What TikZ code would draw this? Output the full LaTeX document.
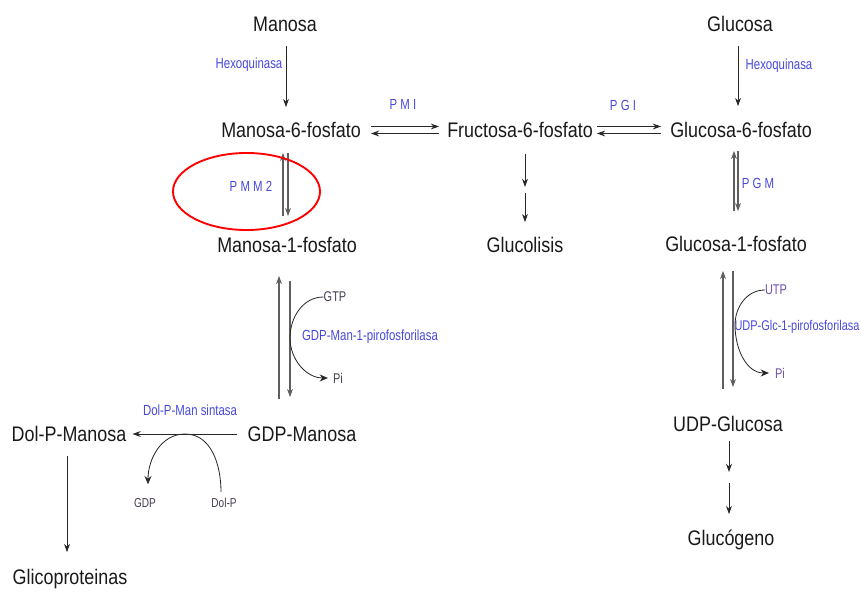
\documentclass[tikz,border=0pt]{standalone}
\usepackage{fontspec}
\setmainfont{Liberation Sans}[FakeStretch=0.85]
\newfontfamily\enzfont{Liberation Sans}[FakeStretch=0.78]
\usetikzlibrary{arrows.meta,calc}
\definecolor{txtdark}{RGB}{25,25,25}
\definecolor{enzblue}{RGB}{72,72,220}
\definecolor{cofgray}{RGB}{70,60,80}
\definecolor{cofviolet}{RGB}{110,80,170}
\definecolor{linedark}{RGB}{40,40,40}
\definecolor{linegray}{RGB}{95,95,95}

\begin{document}
\begin{tikzpicture}[
  x=0.03cm,y=0.03cm,
  met/.style={inner sep=0pt,text height=13pt,text depth=0pt,text=txtdark,font=\fontsize{18}{21}\selectfont},
  enz/.style={inner sep=0pt,text=enzblue,font=\enzfont\fontsize{12.5}{14}\selectfont},
  cof/.style={inner sep=0pt,text=cofgray,font=\enzfont\fontsize{12}{14}\selectfont},
  rx/.style={draw=linedark,line width=0.8pt,-{Stealth[length=7pt,width=5pt]}},
  rxp/.style={rx,draw=linegray,line width=1.1pt},
  cx/.style={draw=linedark,line width=0.7pt,-{Stealth[length=7pt,width=6pt]}}
]
  \useasboundingbox (0,0) rectangle (861,-592);

  % metabolites
  \node[met] (man)    at (285,-24)  {Manosa};
  \node[met] (glc)    at (740,-24)  {Glucosa};
  \node[met] (m6p)    at (291,-130) {Manosa-6-fosfato};
  \node[met] (f6p)    at (520,-130) {Fructosa-6-fosfato};
  \node[met] (g6p)    at (741,-130) {Glucosa-6-fosfato};
  \node[met] (m1p)    at (287,-245) {Manosa-1-fosfato};
  \node[met] (gls)    at (525,-245) {Glucolisis};
  \node[met] (g1p)    at (736,-244) {Glucosa-1-fosfato};
  \node[met] (gdpman) at (302,-434) {GDP-Manosa};
  \node[met] (dpm)    at (69,-434)  {Dol-P-Manosa};
  \node[met] (udpg)   at (728,-424) {UDP-Glucosa};
  \node[met] (glcg)   at (731,-538) {Glucógeno};
  \node[met] (glico)  at (70,-577)  {Glicoproteinas};

  % enzymes
  \node[enz] (hexo1) at (249,-65)  {Hexoquinasa};
  \node[enz] (hexo2) at (779,-66)  {Hexoquinasa};
  \node[enz] (pmi)   at (403,-104) {P M I};
  \node[enz] (pgi)   at (623,-105) {P G I};
  \node[enz] (pmm)   at (251,-186) {P M M 2};
  \node[enz] (pgm)   at (758,-183) {P G M};
  \node[enz] (gmpp)  at (370,-337) {GDP-Man-1-pirofosforilasa};
  \node[enz,font=\enzfont\fontsize{12}{14}\selectfont] (ugp) at (797,-327) {UDP-Glc-1-pirofosforilasa};
  \node[enz] (dpms)  at (190,-410) {Dol-P-Man sintasa};

  % cofactors
  \node[cof] (gtp)  at (335,-297) {GTP};
  \node[cof] (pi1)  at (338,-378) {Pi};
  \node[cof,text=cofviolet] (utp) at (776,-290) {UTP};
  \node[cof,text=cofviolet] (pi2) at (780,-373) {Pi};
  \node[cof,font=\enzfont\fontsize{11}{13}\selectfont] (gdp)  at (145,-503) {GDP};
  \node[cof,font=\enzfont\fontsize{11}{13}\selectfont] (dolp) at (224,-503) {Dol-P};

  \coordinate (fmid)   at (525,-190);
  \coordinate (umid)   at (729,-477);
  \coordinate (gtpmid) at (290,-338);
  \coordinate (utpmid) at (735,-325);
  \coordinate (dpmtop) at (185,-434);

  % hexokinase steps
  \draw[rx] ($(man.south)+(1,-14)$) -- ($(man.south|-m6p.north)+(1,15)$);
  \draw[rx] ($(glc.south)+(-2,-14)$) -- ($(glc.south|-g6p.north)+(-2,16)$);

  % isomerases
  \draw[rx] ($(m6p.east)+(10,3.5)$) -- ($(f6p.west)+(-8,3.5)$);
  \draw[rx] ($(f6p.west)+(-8,-3.5)$) -- ($(m6p.east)+(10,-3.5)$);
  \draw[rx] ($(f6p.east)+(4,3.5)$) -- ($(g6p.west)+(-9,3.5)$);
  \draw[rx] ($(g6p.west)+(-9,-3.5)$) -- ($(f6p.east)+(4,-3.5)$);

  % mutases
  \draw[rxp] ($(m1p.north)+(-4,21)$) -- ($(m1p.north|-m6p.south)+(-4,-15)$);
  \draw[rxp] ($(m1p.north|-m6p.south)+(1,-15)$) -- ($(m1p.north)+(1,21)$);
  \draw[rxp] ($(g1p.north)+(-2,25)$) -- ($(g1p.north|-g6p.south)+(-2,-13)$);
  \draw[rxp] ($(g1p.north|-g6p.south)+(2,-13)$) -- ($(g1p.north)+(2,25)$);

  % glycolysis
  \draw[rx] ($(fmid|-f6p.south)+(0,-16)$) -- ($(fmid)+(0,3)$);
  \draw[rx] ($(fmid)+(0,-3)$) -- ($(gls.north)+(0,15)$);

  % pyrophosphorylases
  \draw[rxp] ($(m1p.south|-gdpman.north)+(-8,27)$) -- ($(m1p.south)+(-8,-23)$);
  \draw[rxp] ($(m1p.south)+(3,-28)$) -- ($(m1p.south|-gdpman.north)+(3,29)$);
  \draw[cx] (gtp.west) to[out=180,in=90] (gtpmid) to[out=-90,in=180] ($(pi1.west)+(-5,0)$);

  \draw[rxp] ($(g1p.south|-udpg.north)+(-13,27)$) -- ($(g1p.south)+(-13,-19)$);
  \draw[rxp] ($(g1p.south)+(-3,-19)$) -- ($(g1p.south|-udpg.north)+(-3,29)$);
  \draw[cx] (utp.west) to[out=180,in=90] (utpmid) to[out=-90,in=180] ($(pi2.west)+(-6,0)$);

  % glycogen
  \draw[rx] ($(umid|-udpg.south)+(0,-9)$) -- ($(umid)+(0,5)$);
  \draw[rx] ($(umid)+(0,-6)$) -- ($(umid|-glcg.north)+(0,16)$);

  % dolichol branch
  \draw[rx] ($(gdpman.west)+(-10,0)$) -- ($(dpm.east)+(6,0)$);
  \draw[cx] ($(dolp.north)+(-3,6)$) to[out=90,in=0] (dpmtop) to[out=180,in=90] ($(gdp.north)+(3,14)$);
  \draw[rx] ($(dpm.south)+(-2,-14)$) -- ($(dpm.south|-glico.north)+(-2,17)$);

  % highlight
  \draw[red,line width=1.6pt] (246.5,-191.5) ellipse [x radius=73.5,y radius=38.5];
\end{tikzpicture}
\end{document}
